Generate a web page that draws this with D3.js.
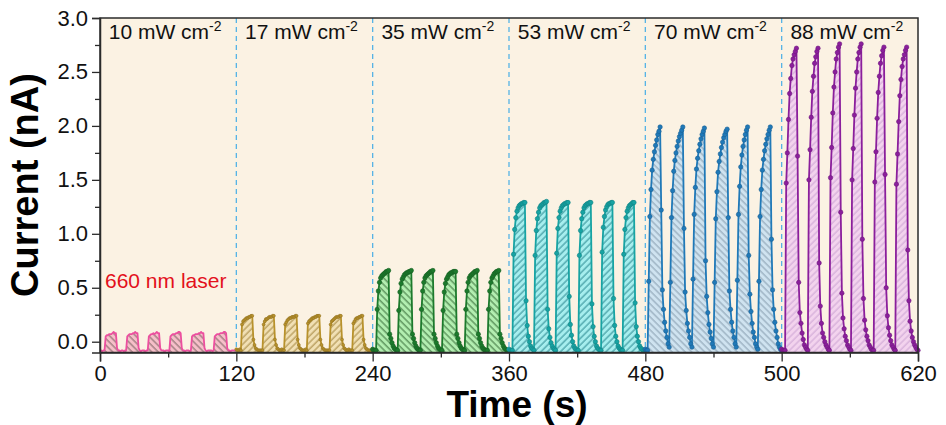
<!DOCTYPE html>
<html>
<head>
<meta charset="utf-8">
<script src="https://cdn.jsdelivr.net/npm/d3@7"></script>
<style>
  body { margin: 0; background: #fff; }
  text { font-family: Arial, "Liberation Sans", sans-serif; }
</style>
</head>
<body>
<div id="chart"></div>
<script>
  // Labels for the 6 power densities
  var powers = ["10", "17", "35", "53", "70", "88"]

  // x ticks (axis is drawn in 120 s blocks, labels as printed)
  var xTicks = [0, 120, 240, 360, 480, 600, 720]
  var xTickLabels = ["0", "120", "240", "360", "480", "500", "620"]
  var xMinor = [60, 180, 300, 420, 540, 660]
  var yTicks = [0, 0.5, 1.0, 1.5, 2.0, 2.5, 3.0]
  var yMinor = [0.25, 0.75, 1.25, 1.75, 2.25, 2.75]

  // Current (nA), one sample per second, t = 0..120 inside each block
  var i10 = [-0.08, -0.08, -0.09, -0.08, -0.08,
    0.05, 0.06, 0.06, 0.07, 0.07, 0.07, 0.08, 0.09, 0.08, 0.08, -0.06,
    -0.08, -0.08, -0.09, -0.08, -0.08, -0.09, -0.08, -0.08,
    0.05, 0.06, 0.07, 0.07, 0.07, 0.08, 0.08, 0.09, 0.08, 0.08, -0.06,
    -0.08, -0.09, -0.08, -0.08, -0.08, -0.09, -0.08, -0.08,
    0.05, 0.06, 0.07, 0.07, 0.08, 0.07, 0.08, 0.09, 0.08, 0.08, -0.06,
    -0.08, -0.08, -0.08, -0.09, -0.08, -0.08, -0.08, -0.09,
    0.05, 0.06, 0.07, 0.07, 0.07, 0.08, 0.08, 0.09, 0.09, 0.08, -0.06,
    -0.08, -0.08, -0.09, -0.08, -0.08, -0.08, -0.09, -0.08,
    0.05, 0.06, 0.06, 0.07, 0.07, 0.07, 0.08, 0.08, 0.09, 0.08, 0.08, -0.06,
    -0.08, -0.09, -0.08, -0.08, -0.08, -0.08, -0.09, -0.08,
    0.05, 0.06, 0.07, 0.07, 0.07, 0.08, 0.08, 0.08, 0.09, 0.09, 0.08, -0.06,
    -0.08, -0.08, -0.09, -0.08, -0.08, -0.08, -0.08, -0.08]

  var i17 = [-0.07, -0.08, -0.08, -0.07, -0.08,
    0.16, 0.19, 0.20, 0.21, 0.22, 0.22, 0.23, 0.23, 0.24, 0.24,
    0.02, -0.03, -0.06, -0.07, -0.08, -0.08, -0.08, -0.08, -0.08,
    0.16, 0.19, 0.21, 0.21, 0.22, 0.23, 0.23, 0.23, 0.24, 0.24,
    0.02, -0.03, -0.06, -0.07, -0.08, -0.08, -0.07, -0.08, -0.08,
    0.16, 0.18, 0.20, 0.21, 0.22, 0.22, 0.23, 0.23, 0.23, 0.24, 0.24,
    0.02, -0.03, -0.06, -0.07, -0.08, -0.08, -0.08, -0.07, -0.08,
    0.17, 0.19, 0.20, 0.21, 0.22, 0.22, 0.23, 0.23, 0.24, 0.24, 0.24,
    0.02, -0.03, -0.06, -0.07, -0.08, -0.08, -0.08, -0.08, -0.08,
    0.16, 0.19, 0.20, 0.21, 0.22, 0.23, 0.23, 0.23, 0.24, 0.24,
    0.02, -0.03, -0.06, -0.07, -0.08, -0.08, -0.07, -0.08, -0.08, -0.08,
    0.17, 0.19, 0.21, 0.22, 0.22, 0.23, 0.23, 0.24, 0.24,
    0.02, -0.03, -0.06, -0.07, -0.08, -0.08, -0.08, -0.08, -0.08]

  var i35 = [-0.07, -0.08, -0.08, -0.08,
    0.30, 0.47, 0.55, 0.59, 0.61, 0.62, 0.63, 0.64, 0.65, 0.65, 0.66,
    0.07, 0.03, -0.01, -0.04, -0.06, -0.07, -0.08, -0.08,
    0.29, 0.46, 0.54, 0.58, 0.60, 0.62, 0.63, 0.64, 0.64, 0.65, 0.65, 0.66,
    0.07, 0.03, -0.01, -0.04, -0.06, -0.07, -0.08, -0.08,
    0.30, 0.47, 0.55, 0.59, 0.61, 0.62, 0.63, 0.64, 0.65, 0.65, 0.66,
    0.07, 0.03, -0.01, -0.04, -0.06, -0.07, -0.08, -0.08,
    0.29, 0.46, 0.54, 0.58, 0.60, 0.62, 0.63, 0.64, 0.64, 0.65, 0.65, 0.65,
    0.07, 0.03, -0.01, -0.04, -0.06, -0.07, -0.08, -0.08,
    0.30, 0.47, 0.55, 0.59, 0.61, 0.62, 0.63, 0.64, 0.65, 0.65, 0.66,
    0.07, 0.03, -0.01, -0.04, -0.06, -0.07, -0.08, -0.08, -0.08,
    0.30, 0.47, 0.55, 0.59, 0.61, 0.63, 0.64, 0.65, 0.65, 0.66,
    0.07, 0.03, -0.01, -0.04, -0.06, -0.07, -0.08, -0.08, -0.08]

  var i53 = [-0.07, -0.08, -0.08, -0.08,
    0.81, 1.04, 1.15, 1.21, 1.24, 1.26, 1.27, 1.28, 1.28, 1.29, 1.29,
    0.38, 0.15, 0.05, 0.00, -0.04, -0.06, -0.07, -0.08,
    0.80, 1.03, 1.14, 1.20, 1.24, 1.26, 1.27, 1.28, 1.29, 1.29, 1.30,
    0.30, 0.12, 0.04, -0.01, -0.04, -0.06, -0.07, -0.08,
    0.82, 1.05, 1.15, 1.21, 1.24, 1.26, 1.27, 1.28, 1.28, 1.29, 1.29,
    0.42, 0.16, 0.06, 0.00, -0.04, -0.06, -0.07, -0.08, -0.08,
    0.80, 1.03, 1.14, 1.20, 1.24, 1.26, 1.27, 1.28, 1.28, 1.29, 1.29,
    0.35, 0.14, 0.05, 0.00, -0.04, -0.06, -0.07, -0.08, -0.08,
    0.83, 1.06, 1.16, 1.22, 1.25, 1.27, 1.28, 1.28, 1.29, 1.29,
    0.40, 0.15, 0.05, 0.00, -0.04, -0.06, -0.07, -0.08, -0.08,
    0.81, 1.04, 1.15, 1.21, 1.24, 1.26, 1.27, 1.28, 1.29, 1.29,
    0.36, 0.14, 0.05, 0.00, -0.04, -0.06, -0.07, -0.08, -0.08, -0.08]

  var i70 = [-0.07, -0.08, -0.08,
    0.56, 1.16, 1.41, 1.59, 1.69, 1.76, 1.82, 1.87, 1.92, 1.95, 1.99,
    1.22, 0.48, 0.30, 0.18, 0.10, 0.04, -0.02, -0.05,
    0.55, 1.15, 1.40, 1.58, 1.68, 1.75, 1.81, 1.86, 1.90, 1.93, 1.96, 1.99,
    1.05, 0.46, 0.29, 0.17, 0.10, 0.04, -0.02, -0.05,
    0.58, 1.18, 1.43, 1.60, 1.70, 1.77, 1.83, 1.88, 1.92, 1.95, 1.98,
    0.75, 0.42, 0.27, 0.16, 0.09, 0.03, -0.02, -0.05,
    0.55, 1.14, 1.39, 1.57, 1.67, 1.74, 1.80, 1.85, 1.89, 1.92, 1.95, 1.97,
    1.15, 0.47, 0.30, 0.18, 0.10, 0.04, -0.02, -0.05,
    0.57, 1.18, 1.44, 1.62, 1.73, 1.81, 1.87, 1.92, 1.96, 1.99,
    0.80, 0.44, 0.28, 0.17, 0.09, 0.04, -0.02, -0.05, -0.07,
    0.56, 1.16, 1.41, 1.59, 1.69, 1.77, 1.83, 1.88, 1.92, 1.96, 1.99,
    0.95, 0.48, 0.30, 0.18, 0.10, 0.04, -0.02, -0.05, -0.07, -0.08]

  var i88 = [-0.07, -0.08, -0.08, -0.08,
    1.47, 1.75, 2.06, 2.30, 2.44, 2.56, 2.62, 2.66, 2.69, 2.72,
    1.72, 0.55, 0.27, 0.17, 0.08, 0.02, -0.03, -0.05, -0.07, -0.08,
    1.50, 1.78, 2.08, 2.32, 2.46, 2.58, 2.64, 2.69, 2.72,
    0.73, 0.33, 0.17, 0.08, 0.04, 0.00, -0.03, -0.05, -0.07, -0.08,
    1.52, 1.80, 2.12, 2.36, 2.50, 2.62, 2.68, 2.73, 2.76,
    1.20, 0.45, 0.22, 0.12, 0.05, 0.01, -0.03, -0.05, -0.07, -0.08,
    1.50, 1.79, 2.10, 2.35, 2.50, 2.62, 2.68, 2.73, 2.76,
    0.95, 0.40, 0.20, 0.11, 0.05, 0.01, -0.03, -0.05, -0.07, -0.08, -0.08,
    1.48, 1.76, 2.07, 2.31, 2.46, 2.58, 2.65, 2.70, 2.73,
    1.55, 0.50, 0.24, 0.13, 0.06, 0.01, -0.03, -0.05, -0.07, -0.08,
    1.46, 1.74, 2.04, 2.28, 2.43, 2.55, 2.62, 2.66, 2.70, 2.73,
    0.85, 0.38, 0.19, 0.10, 0.04, 0.00, -0.03, -0.05, -0.07, -0.08]

  var currents = [i10, i17, i35, i53, i70, i88]

  // styles per block
  var lineColor = ["#ec4f9f", "#b8922c", "#1c7a2c", "#17a3a3", "#2079b8", "#8b1f9c"]
  var fillColor = ["#f6bfc9", "#f1e0b4", "#b2eeb0", "#a6eeee", "#cfe3f0", "#f3d3ee"]
  var hatchColor = ["#6d5656", "#9b7b32", "#2c5f2c", "#1d7d85", "#7f93a8", "#c79fd0"]
  var hatchAngle = [-45, 45, -45, 45, -45, 45]
  var dotR = [0, 1.5, 2.2, 2.2, 2.2, 2.2]

  var width = 946
  var height = 425
  var margin = { left: 100, right: 28, top: 18, bottom: 72 }

  var svg = d3.select("#chart")
    .append("svg")
    .attr("width", width)
    .attr("height", height)

  var x = d3.scaleLinear()
    .domain([0, 720])
    .range([margin.left, width - margin.right])

  var y = d3.scaleLinear()
    .domain([-0.1, 3.0])
    .range([height - margin.bottom - 0.5, margin.top])

  // hatch patterns
  var defs = svg.append("defs")
  powers.forEach(function (p, k) {
    var pat = defs.append("pattern")
      .attr("id", "hatch" + k)
      .attr("patternUnits", "userSpaceOnUse")
      .attr("width", 4.6)
      .attr("height", 4.6)
      .attr("patternTransform", "rotate(" + hatchAngle[k] + ")")
    pat.append("rect")
      .attr("width", 4.6)
      .attr("height", 4.6)
      .attr("fill", fillColor[k])
    pat.append("line")
      .attr("x1", 1).attr("x2", 1)
      .attr("y1", 0).attr("y2", 4.6)
      .attr("stroke", hatchColor[k])
      .attr("stroke-width", 0.9)
  })

  // plot background
  svg.append("rect")
    .attr("x", x(0))
    .attr("y", y(3))
    .attr("width", x(720) - x(0))
    .attr("height", y(-0.1) - y(3))
    .attr("fill", "#fbf2e3")

  // block separators
  svg.append("g")
    .selectAll("line")
    .data(xTicks.slice(1, -1))
    .enter()
    .append("line")
    .attr("x1", function (d) { return x(d) })
    .attr("x2", function (d) { return x(d) })
    .attr("y1", y(3))
    .attr("y2", y(-0.1))
    .attr("stroke", "#55b3e6")
    .attr("stroke-width", 1.3)
    .attr("stroke-dasharray", "5,4")

  // one block per power density
  currents.forEach(function (vals, k) {
    var pts = vals.map(function (v, i) { return { t: k * 120 + i, v: v } })

    var area = d3.area()
      .x(function (d) { return x(d.t) })
      .y0(y(-0.1))
      .y1(function (d) { return y(d.v) })
    var line = d3.line()
      .x(function (d) { return x(d.t) })
      .y(function (d) { return y(d.v) })

    var g = svg.append("g")
    g.append("path")
      .datum(pts)
      .attr("d", area)
      .attr("fill", "url(#hatch" + k + ")")
    g.append("path")
      .datum(pts)
      .attr("d", line)
      .attr("fill", "none")
      .attr("stroke", lineColor[k])
      .attr("stroke-width", 1.8)
      .attr("stroke-linejoin", "round")
    if (dotR[k] > 0) {
      g.selectAll("circle")
        .data(pts)
        .enter()
        .append("circle")
        .attr("cx", function (d) { return x(d.t) })
        .attr("cy", function (d) { return y(d.v) })
        .attr("r", dotR[k])
        .attr("fill", lineColor[k])
        .attr("stroke", d3.color(lineColor[k]).darker(0.6))
        .attr("stroke-width", 0.6)
    }
  })

  // frame
  svg.append("rect")
    .attr("x", x(0))
    .attr("y", y(3))
    .attr("width", x(720) - x(0))
    .attr("height", y(-0.1) - y(3))
    .attr("fill", "none")
    .attr("stroke", "#2b2b2b")
    .attr("stroke-width", 1.5)

  // axes
  var xAxis = d3.axisBottom(x)
    .tickValues(xTicks)
    .tickFormat(function (d, i) { return xTickLabels[i] })
    .tickSize(9)
    .tickPadding(4)
  svg.append("g")
    .attr("transform", "translate(0," + y(-0.1) + ")")
    .call(xAxis)
  svg.append("g")
    .attr("transform", "translate(0," + y(-0.1) + ")")
    .call(d3.axisBottom(x).tickValues(xMinor).tickSize(5).tickFormat(""))
    .call(function (g) { g.select(".domain").remove() })

  var yAxis = d3.axisLeft(y)
    .tickValues(yTicks)
    .tickFormat(d3.format(".1f"))
    .tickSize(8)
    .tickPadding(4)
  svg.append("g")
    .attr("transform", "translate(" + x(0) + ",0)")
    .call(yAxis)
  svg.append("g")
    .attr("transform", "translate(" + x(0) + ",0)")
    .call(d3.axisLeft(y).tickValues(yMinor).tickSize(5).tickFormat(""))
    .call(function (g) { g.select(".domain").remove() })

  svg.selectAll(".domain").attr("stroke", "#2b2b2b").attr("stroke-width", 1.5)
  svg.selectAll(".tick line").attr("stroke", "#2b2b2b").attr("stroke-width", 1.3)
  svg.selectAll(".tick text")
    .attr("fill", "#111")
    .style("font-size", "22px")
    .style("font-family", "Arial, 'Liberation Sans', sans-serif")

  // axis titles
  svg.append("text")
    .attr("x", 517)
    .attr("y", 417)
    .attr("text-anchor", "middle")
    .style("font-size", "37px")
    .style("font-weight", "bold")
    .attr("fill", "#000")
    .text("Time (s)")

  svg.append("text")
    .attr("transform", "translate(38,185) rotate(-90)")
    .attr("text-anchor", "middle")
    .style("font-size", "38px")
    .style("font-weight", "bold")
    .attr("fill", "#000")
    .text("Current (nA)")

  // power density labels
  var lab = svg.append("g")
    .selectAll("text")
    .data(powers)
    .enter()
    .append("text")
    .attr("x", function (d, k) { return x(k * 120 + 60) - 3 })
    .attr("y", 39)
    .attr("text-anchor", "middle")
    .style("font-size", "21px")
    .attr("fill", "#111")
  lab.append("tspan").text(function (d) { return d + " mW cm" })
  lab.append("tspan")
    .attr("dy", -8)
    .style("font-size", "14px")
    .text("-2")

  svg.append("text")
    .attr("x", 105)
    .attr("y", 288)
    .style("font-size", "21px")
    .attr("fill", "#e3101c")
    .text("660 nm laser")
</script>
</body>
</html>
